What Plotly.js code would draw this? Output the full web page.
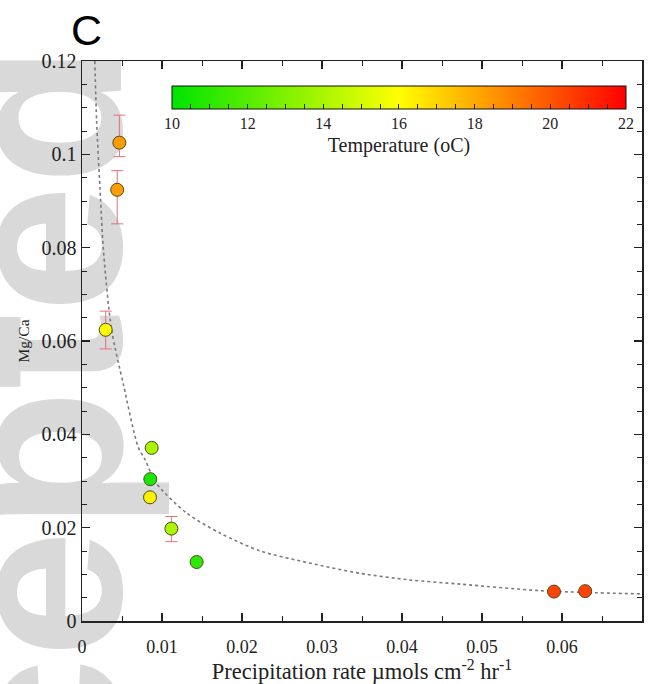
<!DOCTYPE html>
<html>
<head>
<meta charset="utf-8">
<script src="https://cdn.plot.ly/plotly-3.0.1.min.js"></script>
<style>html,body{margin:0;padding:0;background:#fff;}#chart{width:656px;height:684px;}</style>
</head>
<body>
<div id="chart"></div>
<script>
// Measured points
const rate = [0.00467, 0.0044, 0.00296, 0.00871, 0.00854, 0.0085, 0.01117, 0.01433, 0.0590, 0.0629];
const mgca = [0.1025, 0.0924, 0.0624, 0.0371, 0.0304, 0.0265, 0.0198, 0.01264, 0.0063, 0.0064];
const temperature = [18.3, 18.3, 16.1, 14.0, 10.6, 16.3, 14.0, 11.0, 20.4, 20.4];
const errPlus  = [0.0059, 0.0041, 0.0040, null, null, null, 0.0026, null, null, null];
const errMinus = [0.0030, 0.0073, 0.0041, null, null, null, 0.0028, null, null, null];

// Fitted curve
const fitX = [0.0016, 0.00183, 0.00225, 0.0027, 0.0037, 0.0052, 0.0070, 0.0079, 0.0093, 0.0131, 0.0173, 0.0223, 0.0285, 0.0348, 0.0410, 0.0473, 0.0573, 0.0700];
const fitY = [0.120, 0.107, 0.0927, 0.079, 0.0624, 0.0505, 0.0374, 0.0345, 0.0295, 0.0231, 0.0188, 0.0150, 0.0124, 0.0102, 0.0088, 0.0079, 0.0065, 0.0058];

// Colour bar ticks
const cbTickVals = [10,10.5,11,11.5,12,12.5,13,13.5,14,14.5,15,15.5,16,16.5,17,17.5,18,18.5,19,19.5,20,20.5,21,21.5,22];
const cbTickText = cbTickVals.map(v => (v % 2 === 0 ? String(v) : ''));

const serif = 'Liberation Serif';
const ink = '#222';

const traces = [
  {
    x: fitX, y: fitY, mode: 'lines', type: 'scatter',
    line: {color: '#7a7a80', width: 1.6, dash: 'dot', shape: 'spline', smoothing: 0.8},
    hoverinfo: 'skip'
  },
  {
    x: rate, y: mgca, mode: 'markers', type: 'scatter',
    error_y: {type: 'data', symmetric: false, array: errPlus, arrayminus: errMinus,
              color: '#e0707e', thickness: 1, width: 6},
    marker: {
      size: 13, color: temperature, cmin: 10, cmax: 22,
      colorscale: [[0, 'rgb(0,228,0)'], [0.5, 'rgb(255,255,0)'], [1, 'rgb(255,0,0)']],
      line: {color: '#4a4a2a', width: 1},
      showscale: true,
      colorbar: {
        orientation: 'h', x: 0.566, xanchor: 'center', y: 0.9554, yanchor: 'top',
        lenmode: 'pixels', len: 454, thickness: 23, xpad: 0, ypad: 0,
        outlinecolor: '#111', outlinewidth: 1,
        tickmode: 'array', tickvals: cbTickVals, ticktext: cbTickText,
        ticks: 'inside', ticklen: 5, tickcolor: '#222',
        tickfont: {family: serif, size: 16, color: ink},
        title: {text: 'Temperature (oC)', side: 'bottom', font: {family: serif, size: 20, color: ink}}
      }
    }
  }
];

const layout = {
  width: 656, height: 684,
  margin: {l: 82, r: 14, t: 61, b: 63},
  paper_bgcolor: '#fff', plot_bgcolor: 'rgba(0,0,0,0)',
  showlegend: false,
  xaxis: {
    range: [0, 0.07], tick0: 0, dtick: 0.01,
    ticks: 'inside', ticklen: 8, tickwidth: 1.2, tickcolor: ink,
    minor: {dtick: 0.005, ticks: 'inside', ticklen: 5, tickcolor: ink, tickwidth: 1},
    showline: true, linecolor: ink, linewidth: 1.5, mirror: 'ticks',
    showgrid: false, zeroline: false,
    ticklabelstandoff: 9,
    tickfont: {family: serif, size: 18, color: ink},
    title: {text: 'Precipitation rate \u00b5mols cm<sup>-2</sup> hr<sup>-1</sup>', font: {family: serif, size: 22.5, color: ink}, standoff: 4}
  },
  yaxis: {
    range: [0, 0.12], tick0: 0, dtick: 0.02,
    ticks: 'inside', ticklen: 8, tickwidth: 1.2, tickcolor: ink,
    minor: {dtick: 0.005, ticks: 'inside', ticklen: 5, tickcolor: ink, tickwidth: 1},
    showline: true, linecolor: ink, linewidth: 1.5, mirror: 'ticks',
    showgrid: false, zeroline: false,
    tickfont: {family: serif, size: 20, color: ink},
    title: {text: 'Mg/Ca', font: {family: serif, size: 15.5, color: ink}, standoff: 8}
  },
  shapes: [
    {
      type: 'rect', xref: 'paper', yref: 'paper', layer: 'below',
      x0: -0.30, x1: 0.0768, y0: -0.60, y1: 0.81,
      line: {width: 0}, fillcolor: 'rgba(0,0,0,0)',
      label: {text: 'Accepted', textangle: -90, textposition: 'middle center',
              font: {family: 'Liberation Sans', size: 230, color: '#d9d9d9', weight: 'bold'}}
    }
  ],
  annotations: [
    {text: 'C', xref: 'paper', yref: 'paper', x: 0.0089, y: 1.0545, xanchor: 'center', yanchor: 'middle',
     showarrow: false, font: {family: 'Liberation Sans', size: 43, color: '#000'}}
  ]
};

Plotly.newPlot('chart', traces, layout, {staticPlot: true, displayModeBar: false});
</script>
</body>
</html>
